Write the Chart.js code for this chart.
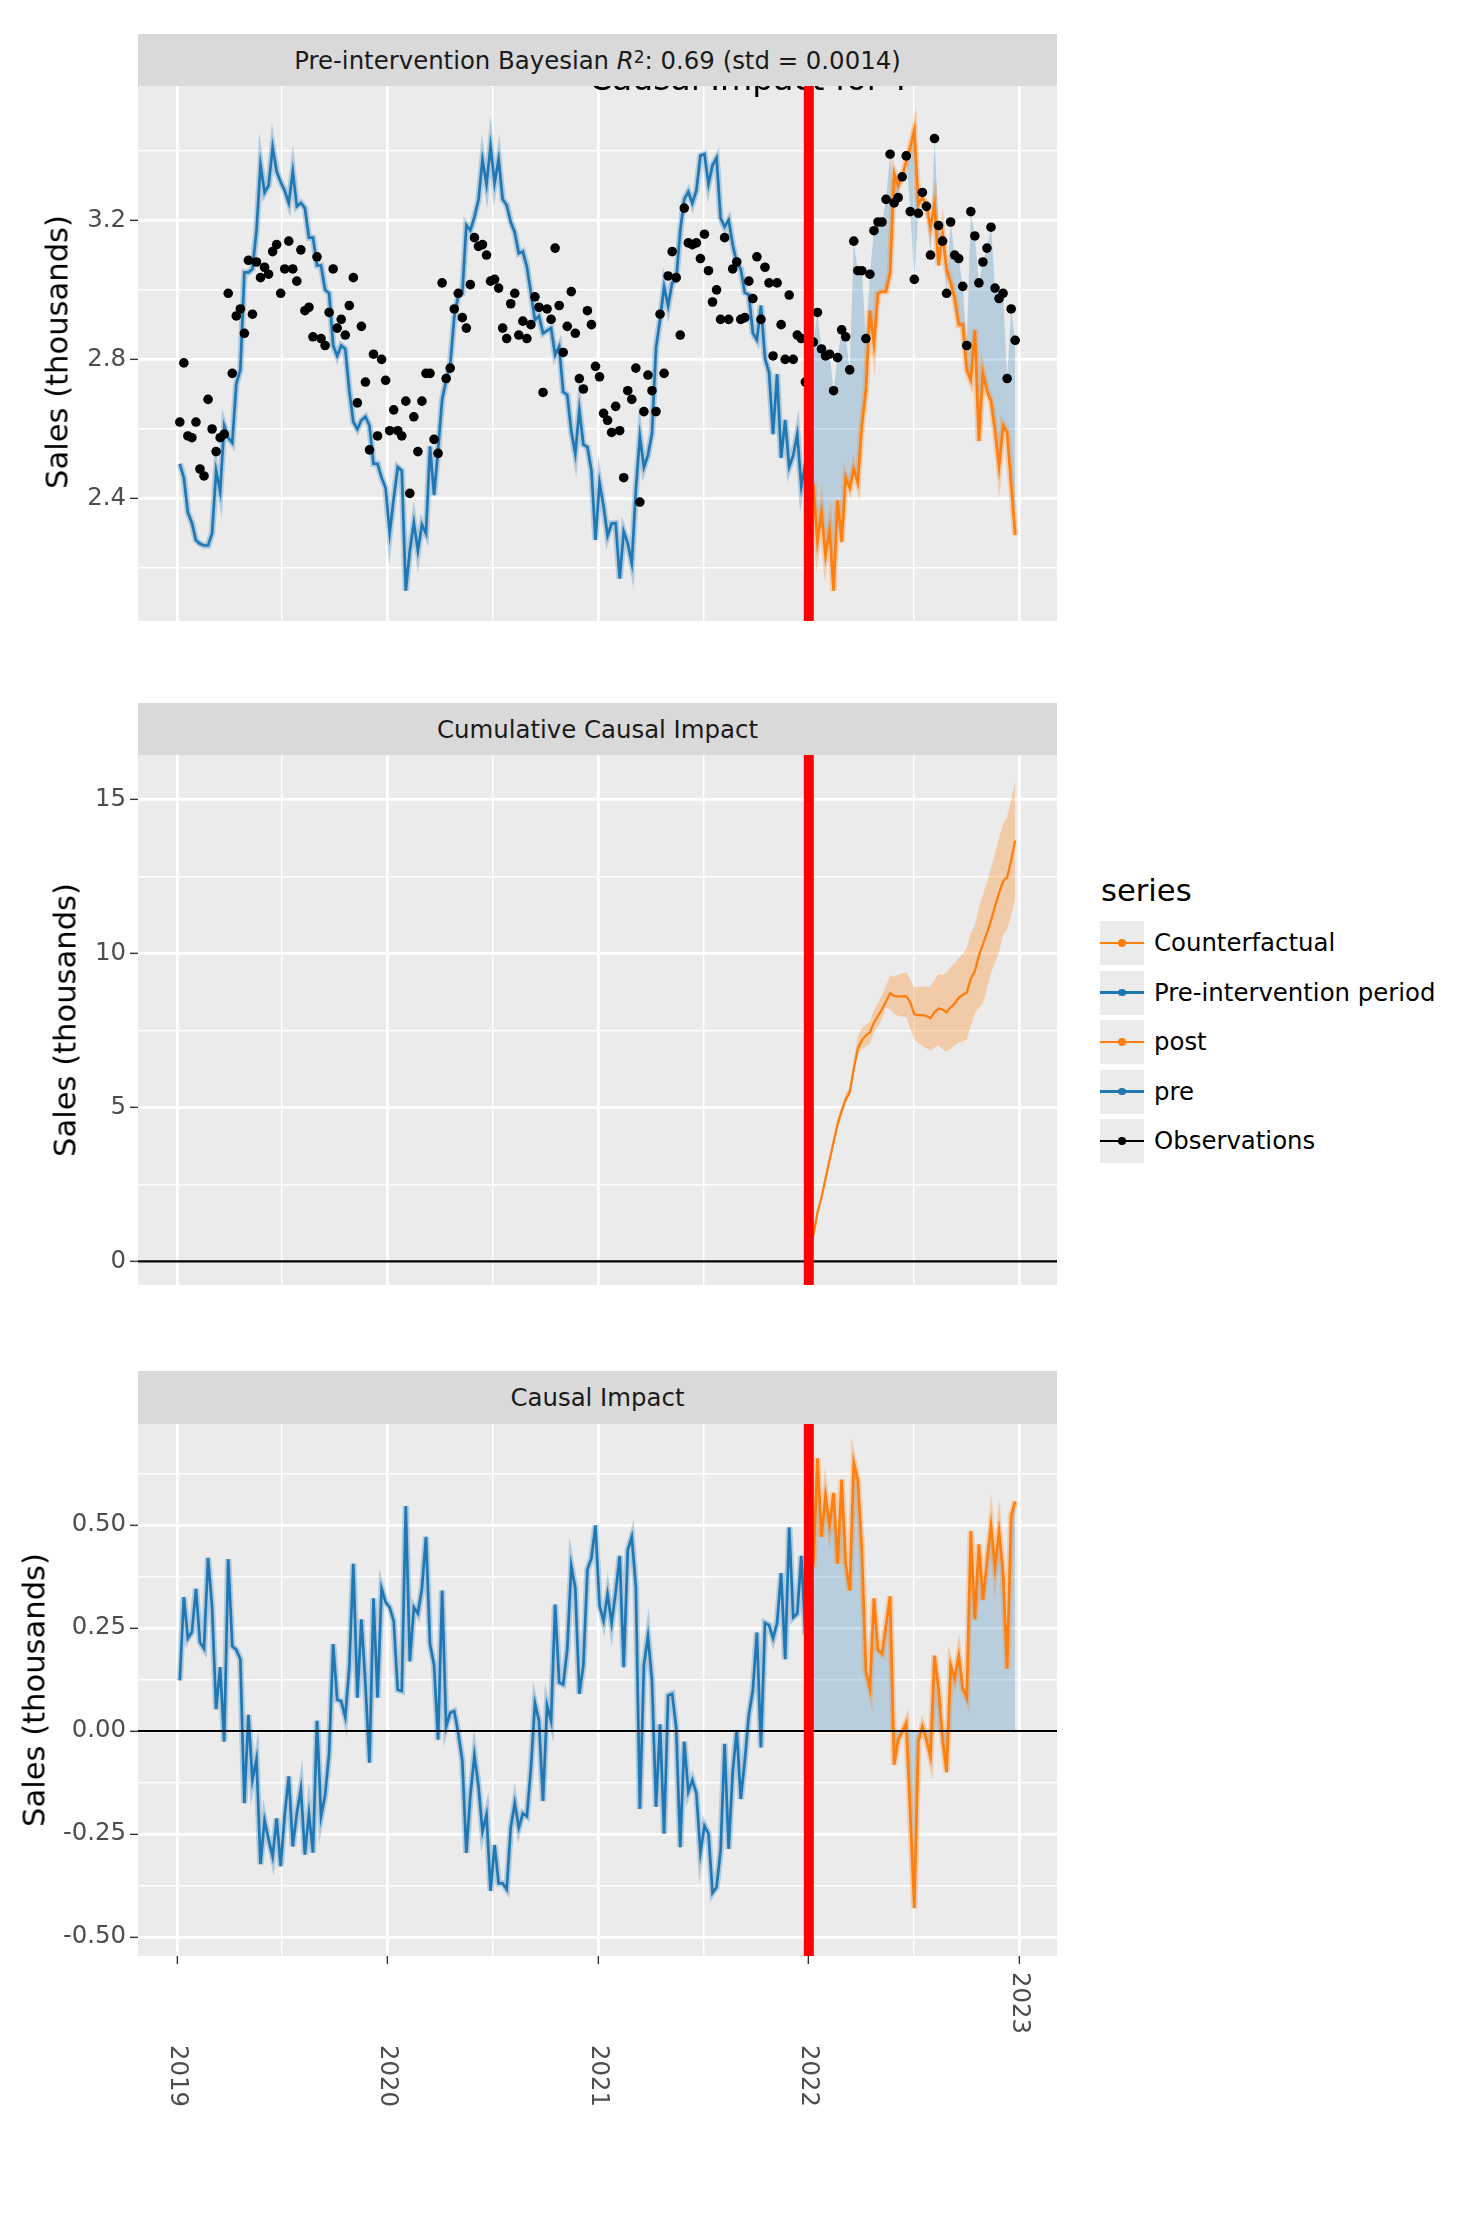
<!DOCTYPE html>
<html>
<head>
<meta charset="utf-8">
<title>Causal Impact</title>
<script src="https://cdn.jsdelivr.net/npm/chart.js@4.4.1/dist/chart.umd.min.js"></script>
<style>
  html, body { margin: 0; padding: 0; background: #fff; }
  body { position: relative; width: 1468px; height: 2240px; overflow: hidden; font-family: "DejaVu Sans", sans-serif; }
  canvas.panel { position: absolute; left: 0; }
  .strip { position: absolute; left: 138px; width: 919px; background: #D9D9D9; color: #1A1A1A; font-size: 24.4px;
           display: flex; align-items: center; justify-content: center; white-space: nowrap; }
  .strip sup { font-size: 17px; line-height: 0; position: relative; top: -3px; }
  .ytitle { position: absolute; font-size: 30.6px; color: #000; white-space: nowrap; transform: translate(-50%, -50%) rotate(-90deg); }
  .legend-title { position: absolute; left: 1101px; top: 876px; font-size: 30.6px; line-height: 1; color: #000; }
  .key { position: absolute; left: 1100px; width: 44px; height: 44px; background: #EBEBEB; }
  .key .ln { position: absolute; left: 0; right: 0; top: 20.6px; height: 2.8px; }
  .key .pt { position: absolute; left: 18.3px; top: 18.3px; width: 7.4px; height: 7.4px; border-radius: 50%; }
  .klabel { position: absolute; left: 1154px; font-size: 24.4px; color: #000; line-height: 44px; height: 44px; white-space: nowrap; }
</style>
</head>
<body>

<canvas class="panel" id="salesChart" width="1080" height="575" style="top:66px"></canvas>
<canvas class="panel" id="cumChart" width="1080" height="570" style="top:735px"></canvas>
<canvas class="panel" id="impactChart" width="1080" height="836" style="top:1404px"></canvas>

<div class="strip" style="top:34px;height:52px">Pre-intervention Bayesian&nbsp;<i>R</i><sup>2</sup>: 0.69 (std = 0.0014)</div>
<div class="strip" style="top:703px;height:52px">Cumulative Causal Impact</div>
<div class="strip" style="top:1371px;height:53px">Causal Impact</div>

<div class="ytitle" style="left:57px;top:352px">Sales (thousands)</div>
<div class="ytitle" style="left:65px;top:1020px">Sales (thousands)</div>
<div class="ytitle" style="left:34px;top:1690px">Sales (thousands)</div>

<div id="legend"></div>

<script>
/* ============================================================
   Causal impact — observed sales vs. model, cumulative & weekly impact
   ============================================================ */

// ---- x axis: days since 2019-01-01 ----
const yearLabels = ['2019', '2020', '2021', '2022', '2023'];
const yearStartDays = [0, 365, 731, 1096, 1461];
const firstWeekDay = 5;          // first weekly point, 2019-01-06
const interventionDay = 1096;    // 2022-01-01

// ---- weekly observations (all 208 weeks) ----
const observed = [
  2.62, 2.79, 2.58, 2.575, 2.62, 2.485, 2.465, 2.685, 2.60, 2.535,
  2.575, 2.585, 2.99, 2.76, 2.925, 2.945, 2.875, 3.085, 2.93, 3.08,
  3.035, 3.065, 3.045, 3.11, 3.13, 2.99, 3.06, 3.14, 3.06, 3.025,
  3.115, 2.94, 2.95, 2.865, 3.095, 2.86, 2.84, 2.935, 3.06, 2.89,
  2.915, 2.87, 2.955, 3.035, 2.675, 2.895, 2.735, 2.54, 2.815, 2.58,
  2.80, 2.74, 2.595, 2.655, 2.595, 2.58, 2.68, 2.415, 2.635, 2.535,
  2.68, 2.76, 2.76, 2.57, 2.53, 3.02, 2.745, 2.775, 2.945, 2.99,
  2.92, 2.89, 3.015, 3.15, 3.125, 3.13, 3.10, 3.025, 3.03, 3.005,
  2.89, 2.86, 2.96, 2.99, 2.87, 2.91, 2.86, 2.90, 2.98, 2.95,
  2.705, 2.945, 2.915, 3.12, 2.955, 2.82, 2.895, 2.995, 2.875, 2.745,
  2.715, 2.94, 2.90, 2.78, 2.75, 2.645, 2.625, 2.59, 2.665, 2.595,
  2.46, 2.71, 2.685, 2.775, 2.39, 2.65, 2.755, 2.71, 2.65, 2.93,
  2.76, 3.04, 3.11, 3.035, 2.87, 3.235, 3.135, 3.13, 3.135, 3.09,
  3.16, 3.055, 2.965, 3.00, 2.915, 3.15, 2.915, 3.06, 3.08, 2.915,
  2.92, 3.025, 2.975, 3.095, 2.915, 3.065, 3.02, 2.81, 3.02, 2.90,
  2.80, 2.985, 2.80, 2.87, 2.86, 2.735, 2.85, 2.85, 2.935, 2.83,
  2.81, 2.815, 2.71, 2.805, 2.885, 2.865, 2.77, 3.14, 3.055, 3.055,
  2.86, 3.045, 3.17, 3.195, 3.195, 3.26, 3.39, 3.25, 3.265, 3.325,
  3.385, 3.225, 3.03, 3.22, 3.28, 3.24, 3.10, 3.435, 3.185, 3.14,
  2.99, 3.195, 3.10, 3.09, 3.01, 2.84, 3.225, 3.155, 3.02, 3.08,
  3.12, 3.18, 3.005, 2.975, 2.99, 2.745, 2.945, 2.855
];

// ---- model fit, pre-intervention weeks ----
const predictedPre = [
  2.50, 2.46, 2.36, 2.33, 2.28, 2.27, 2.265, 2.265, 2.30, 2.48,
  2.42, 2.61, 2.575, 2.56, 2.73, 2.77, 3.05, 3.05, 3.06, 3.17,
  3.36, 3.28, 3.30, 3.41, 3.34, 3.31, 3.285, 3.25, 3.34, 3.24,
  3.25, 3.235, 3.15, 3.15, 3.07, 3.07, 3.00, 2.99, 2.84, 2.81,
  2.84, 2.83, 2.71, 2.62, 2.60, 2.625, 2.635, 2.61, 2.50, 2.50,
  2.46, 2.43, 2.30, 2.40, 2.49, 2.48, 2.135, 2.25, 2.33, 2.25,
  2.325, 2.30, 2.55, 2.41, 2.54, 2.685, 2.74, 2.785, 2.92, 2.985,
  2.99, 3.186, 3.171, 3.209, 3.258, 3.374, 3.303, 3.413, 3.307, 3.375,
  3.26, 3.244, 3.195, 3.165, 3.105, 3.11, 3.067, 2.991, 2.913, 2.925,
  2.875, 2.883, 2.89, 2.813, 2.837, 2.707, 2.698, 2.594, 2.529, 2.655,
  2.555, 2.548, 2.48, 2.281, 2.446, 2.378, 2.293, 2.328, 2.329, 2.17,
  2.305, 2.271, 2.214, 2.425, 2.579, 2.49, 2.525, 2.587, 2.834, 2.914,
  3.009, 2.954, 3.02, 3.028, 3.17, 3.261, 3.282, 3.249, 3.286, 3.386,
  3.39, 3.304, 3.358, 3.379, 3.206, 3.181, 3.201, 3.13, 3.078, 3.06,
  2.992, 2.986, 2.876, 2.856, 2.955, 2.803, 2.763, 2.585, 2.758, 2.517,
  2.626, 2.491, 2.524, 2.585, 2.435, 2.50
];

// ---- counterfactual, post-intervention weeks ----
const counterfactual = [
  2.43, 2.435, 2.275, 2.36, 2.235, 2.31, 2.135, 2.395, 2.275, 2.46,
  2.43, 2.485, 2.445, 2.61, 2.71, 2.94, 2.845, 2.99, 2.995, 2.995,
  3.05, 3.335, 3.30, 3.325, 3.37, 3.41, 3.46, 3.245, 3.265, 3.245,
  3.18, 3.245, 3.07, 3.16, 3.06, 3.02, 2.975, 2.90, 2.90, 2.77,
  2.74, 2.885, 2.565, 2.76, 2.71, 2.68, 2.595, 2.49, 2.61, 2.59,
  2.44, 2.295
];

// ---- weekly impact ----
const impactPre = [
  0.123, 0.325, 0.225, 0.24, 0.345, 0.215, 0.20, 0.42, 0.30, 0.053,
  0.155, -0.026, 0.417, 0.206, 0.197, 0.174, -0.175, 0.039, -0.119, -0.068,
  -0.323, -0.217, -0.263, -0.305, -0.212, -0.328, -0.203, -0.11, -0.28, -0.20,
  -0.14, -0.30, -0.20, -0.295, 0.025, -0.207, -0.156, -0.054, 0.211, 0.076,
  0.072, 0.034, 0.155, 0.406, 0.081, 0.271, 0.113, -0.077, 0.322, 0.081,
  0.346, 0.313, 0.30, 0.267, 0.10, 0.097, 0.546, 0.169, 0.30, 0.285,
  0.346, 0.471, 0.211, 0.16, -0.021, 0.341, 0.011, 0.044, 0.048, -0.005,
  -0.072, -0.296, -0.156, -0.059, -0.133, -0.244, -0.203, -0.388, -0.277, -0.37,
  -0.37, -0.384, -0.235, -0.175, -0.235, -0.20, -0.207, -0.091, 0.067, 0.025,
  -0.17, 0.062, 0.025, 0.307, 0.118, 0.113, 0.197, 0.401, 0.346, 0.09,
  0.16, 0.392, 0.42, 0.499, 0.304, 0.267, 0.332, 0.262, 0.336, 0.425,
  0.155, 0.439, 0.471, 0.35, -0.189, 0.16, 0.23, 0.123, -0.184, 0.016,
  -0.249, 0.086, 0.09, 0.007, -0.282, -0.026, -0.147, -0.119, -0.151, -0.296,
  -0.23, -0.249, -0.393, -0.379, -0.291, -0.031, -0.286, -0.10, 0.002, -0.165,
  -0.072, 0.039, 0.099, 0.239, -0.04, 0.262, 0.257, 0.225, 0.262, 0.383,
  0.174, 0.494, 0.276, 0.285, 0.425, 0.234
];
const impactPost = [
  0.42, 0.41, 0.662, 0.471, 0.573, 0.499, 0.578, 0.406, 0.61, 0.406,
  0.341, 0.652, 0.61, 0.439, 0.146, 0.104, 0.322, 0.197, 0.188, 0.257,
  0.327, -0.082, -0.021, -0.003, 0.02, -0.203, -0.43, -0.026, 0.011, -0.021,
  -0.063, 0.183, 0.104, -0.021, -0.10, 0.16, 0.127, 0.183, 0.104, 0.081,
  0.485, 0.271, 0.453, 0.318, 0.411, 0.499, 0.397, 0.485, 0.383, 0.151,
  0.522, 0.557
];

// ---- cumulative impact with interval ----
const cumImpact = [
  0.42, 0.86, 1.58, 2.07, 2.68, 3.28, 3.88, 4.45, 4.88, 5.25,
  5.50, 6.25, 6.90, 7.18, 7.34, 7.44, 7.75, 7.97, 8.19, 8.44,
  8.71, 8.62, 8.60, 8.61, 8.62, 8.41, 8.03, 8.00, 8.00, 7.97,
  7.90, 8.09, 8.21, 8.18, 8.09, 8.25, 8.37, 8.56, 8.66, 8.73,
  9.18, 9.43, 9.93, 10.30, 10.67, 11.07, 11.54, 11.97, 12.34, 12.47,
  13.03, 13.67
];
const cumUpper = [
  0.47, 0.90, 1.65, 2.16, 2.79, 3.42, 4.05, 4.68, 5.06, 5.45,
  5.66, 6.55, 7.30, 7.57, 7.68, 7.78, 8.15, 8.40, 8.65, 8.95,
  9.28, 9.25, 9.31, 9.35, 9.40, 9.15, 8.91, 8.92, 8.92, 8.93,
  8.93, 9.15, 9.33, 9.30, 9.38, 9.55, 9.68, 9.85, 9.99, 10.17,
  10.67, 10.92, 11.48, 11.90, 12.30, 12.78, 13.25, 13.75, 14.21, 14.45,
  15.01, 15.63
];
const cumLower = [
  0.40, 0.82, 1.57, 2.06, 2.67, 3.28, 3.89, 4.50, 4.86, 5.21,
  5.38, 6.12, 6.75, 6.89, 6.98, 7.05, 7.44, 7.62, 7.88, 8.25,
  8.20, 8.05, 7.97, 7.95, 7.94, 7.57, 7.20, 7.10, 7.00, 6.92,
  6.85, 6.95, 7.01, 6.90, 6.82, 6.90, 7.01, 7.10, 7.16, 7.20,
  7.63, 8.06, 8.25, 8.37, 8.87, 9.37, 9.70, 10.05, 10.61, 10.79,
  11.23, 11.79
];

// ---- y ticks ----
const salesTicks = [2.4, 2.8, 3.2];
const cumTicks = [0, 5, 10, 15];
const impactTicks = [-0.5, -0.25, 0, 0.25, 0.5];

// ---- colours ----
const BLUE = '#1F77B4';
const ORANGE = '#FF7F0E';
const BLUE_BAND = 'rgba(31,119,180,0.28)';
const ORANGE_BAND = 'rgba(255,127,14,0.28)';
const BLUE_FILL = 'rgba(31,119,180,0.25)';
const ORANGE_FILL = 'rgba(255,127,14,0.30)';

Chart.defaults.font.family = '"DejaVu Sans", sans-serif';

const weekDays = observed.map((_, i) => firstWeekDay + 7 * i);
const nPre = predictedPre.length;
const pts = (vals, offset) => vals.map((v, i) => ({ x: weekDays[offset + i], y: v }));
const withMinors = (majors, lo, hi) => {
  const step = majors[1] - majors[0];
  const minors = majors.map(v => v - step / 2).concat([majors[majors.length - 1] + step / 2]);
  return majors.concat(minors).filter(v => v >= lo && v <= hi).sort((a, b) => a - b);
};

const xMin = -67.5, xMax = 1526.5;
const xTickValues = withMinors(yearStartDays, xMin, xMax);

// ---- plugins ----
const panelBg = {
  id: 'panelBg',
  beforeDraw(chart) {
    const { ctx, chartArea: a } = chart;
    ctx.save();
    ctx.fillStyle = '#EBEBEB';
    ctx.fillRect(a.left, a.top, a.width, a.height);
    ctx.restore();
  }
};

const refLines = {
  id: 'refLines',
  afterDatasetsDraw(chart, args, opts) {
    const { ctx, chartArea: a, scales: { x, y } } = chart;
    ctx.save();
    if (opts.zero) {
      const y0 = y.getPixelForValue(0);
      ctx.strokeStyle = '#000';
      ctx.lineWidth = 2.2;
      ctx.beginPath(); ctx.moveTo(a.left, y0); ctx.lineTo(a.right, y0); ctx.stroke();
    }
    const xi = x.getPixelForValue(interventionDay);
    ctx.fillStyle = '#FF0000';
    ctx.fillRect(xi - 5, a.top, 10, a.height);
    ctx.restore();
  }
};

// figure title that sits underneath the first strip
const hiddenTitle = {
  id: 'hiddenTitle',
  beforeDatasetsDraw(chart) {
    const { ctx, chartArea: a } = chart;
    ctx.save();
    ctx.font = '33px "DejaVu Sans"';
    ctx.fillStyle = '#000';
    ctx.textAlign = 'center';
    ctx.textBaseline = 'alphabetic';
    ctx.fillText('Causal Impact for Y', 750, a.top + 4);
    ctx.restore();
  }
};

// year labels, turned clockwise, under the last panel
const yearLabelsPlugin = {
  id: 'yearLabels',
  afterDraw(chart) {
    const { ctx, chartArea: a, scales: { x } } = chart;
    ctx.save();
    ctx.font = '24.4px "DejaVu Sans"';
    ctx.fillStyle = '#4D4D4D';
    ctx.textAlign = 'left';
    ctx.textBaseline = 'middle';
    yearStartDays.forEach((d, k) => {
      const top = a.bottom + (k === yearStartDays.length - 1 ? 16 : 89);
      ctx.save();
      ctx.translate(x.getPixelForValue(d), top);
      ctx.rotate(Math.PI / 2);
      ctx.fillText(yearLabels[k], 0, 0);
      ctx.restore();
    });
    ctx.restore();
  }
};

function panelOptions(o) {
  const near = (list, v) => list.some(m => Math.abs(m - v) < 1e-9);
  const yValues = withMinors(o.yMajor, o.yMin, o.yMax);
  return {
    responsive: false, animation: false, devicePixelRatio: 1,
    layout: { padding: { top: 20, right: 23, bottom: o.padBottom, left: 0 } },
    plugins: { legend: { display: false }, tooltip: { enabled: false }, refLines: { zero: o.zero } },
    elements: { line: { tension: 0 }, point: { radius: 0 } },
    scales: {
      x: {
        type: 'linear', min: xMin, max: xMax,
        afterBuildTicks: s => { s.ticks = xTickValues.map(v => ({ value: v })); },
        afterFit: s => { s.height = o.xHeight; },
        ticks: { display: false, autoSkip: false },
        border: { display: false },
        grid: {
          color: '#FFFFFF',
          lineWidth: c => (c.tick && near(yearStartDays, c.tick.value)) ? 2.7 : 1.4,
          drawTicks: o.xTicks, tickLength: 8, tickWidth: 1.4,
          tickColor: c => (c.tick && near(yearStartDays, c.tick.value)) ? '#333333' : 'rgba(0,0,0,0)'
        }
      },
      y: {
        type: 'linear', min: o.yMin, max: o.yMax,
        afterBuildTicks: s => { s.ticks = yValues.map(v => ({ value: v })); },
        afterFit: s => { s.width = 138; },
        ticks: {
          autoSkip: false, padding: 4, color: '#4D4D4D', font: { size: 24.4 },
          callback: v => near(o.yMajor, v) ? o.fmt(v) : ''
        },
        border: { display: false },
        grid: {
          color: '#FFFFFF',
          lineWidth: c => (c.tick && near(o.yMajor, c.tick.value)) ? 2.7 : 1.4,
          drawTicks: true, tickLength: 8, tickWidth: 1.4,
          tickColor: c => (c.tick && near(o.yMajor, c.tick.value)) ? '#333333' : 'rgba(0,0,0,0)'
        }
      }
    }
  };
}

// ---- Panel 1: observed vs model ----
new Chart(document.getElementById('salesChart'), {
  type: 'line',
  data: {
    datasets: [
      { label: 'Observations', data: pts(observed, 0), showLine: false, pointRadius: 4.8,
        pointBackgroundColor: '#000', pointBorderWidth: 0, order: 1 },
      { label: 'Counterfactual', data: pts(counterfactual, nPre), borderColor: ORANGE, borderWidth: 2.7, order: 2 },
      { label: 'Pre-intervention period', data: pts(predictedPre, 0), borderColor: BLUE, borderWidth: 2.7, order: 3 },
      { label: 'post band', data: pts(counterfactual, nPre), borderColor: ORANGE_BAND, borderWidth: 6.5, order: 4 },
      { label: 'pre band', data: pts(predictedPre, 0), borderColor: BLUE_BAND, borderWidth: 6.5, order: 5 },
      { label: 'impact area', data: pts(observed.slice(nPre), nPre), borderColor: 'rgba(0,0,0,0)', borderWidth: 0,
        fill: { target: 1 }, backgroundColor: BLUE_FILL, order: 6 }
    ]
  },
  options: panelOptions({ yMin: 2.048, yMax: 3.586, yMajor: salesTicks, fmt: v => v.toFixed(1),
                          padBottom: 20, xHeight: 0, xTicks: false, zero: false }),
  plugins: [panelBg, hiddenTitle, refLines]
});

// ---- Panel 2: cumulative impact ----
new Chart(document.getElementById('cumChart'), {
  type: 'line',
  data: {
    datasets: [
      { label: 'cumulative', data: pts(cumImpact, nPre), borderColor: ORANGE, borderWidth: 2.3, order: 1 },
      { label: 'upper', data: pts(cumUpper, nPre), borderColor: 'rgba(0,0,0,0)', borderWidth: 0,
        fill: { target: 2 }, backgroundColor: ORANGE_FILL, order: 2 },
      { label: 'lower', data: pts(cumLower, nPre), borderColor: 'rgba(0,0,0,0)', borderWidth: 0, order: 3 }
    ]
  },
  options: panelOptions({ yMin: -0.77, yMax: 16.45, yMajor: cumTicks, fmt: v => String(v),
                          padBottom: 20, xHeight: 0, xTicks: false, zero: true }),
  plugins: [panelBg, refLines]
});

// ---- Panel 3: weekly impact ----
new Chart(document.getElementById('impactChart'), {
  type: 'line',
  data: {
    datasets: [
      { label: 'post', data: pts(impactPost, nPre), borderColor: ORANGE, borderWidth: 2.7, order: 1 },
      { label: 'pre', data: pts(impactPre, 0), borderColor: BLUE, borderWidth: 2.7, order: 2 },
      { label: 'post band', data: pts(impactPost, nPre), borderColor: ORANGE_BAND, borderWidth: 6.5, order: 3 },
      { label: 'pre band', data: pts(impactPre, 0), borderColor: BLUE_BAND, borderWidth: 6.5, order: 4 },
      { label: 'impact area', data: pts(impactPost, nPre), borderColor: 'rgba(0,0,0,0)', borderWidth: 0,
        fill: { value: 0 }, backgroundColor: BLUE_FILL, order: 5 }
    ]
  },
  options: panelOptions({ yMin: -0.546, yMax: 0.745, yMajor: impactTicks, fmt: v => v.toFixed(2),
                          padBottom: 0, xHeight: 284, xTicks: true, zero: true }),
  plugins: [panelBg, refLines, yearLabelsPlugin]
});

// ---- Legend ----
const legendItems = [
  { label: 'Counterfactual', color: ORANGE },
  { label: 'Pre-intervention period', color: BLUE },
  { label: 'post', color: ORANGE },
  { label: 'pre', color: BLUE },
  { label: 'Observations', color: '#000000' }
];
const legendEl = document.getElementById('legend');
legendEl.innerHTML = '<div class="legend-title">series</div>';
legendItems.forEach((it, k) => {
  const top = 921 + k * 49.5;
  legendEl.innerHTML += `
    <div class="key" style="top:${top}px">
      <div class="ln" style="background:${it.color}"></div>
      <div class="pt" style="background:${it.color}"></div>
    </div>
    <div class="klabel" style="top:${top}px">${it.label}</div>`;
});
</script>
</body>
</html>
